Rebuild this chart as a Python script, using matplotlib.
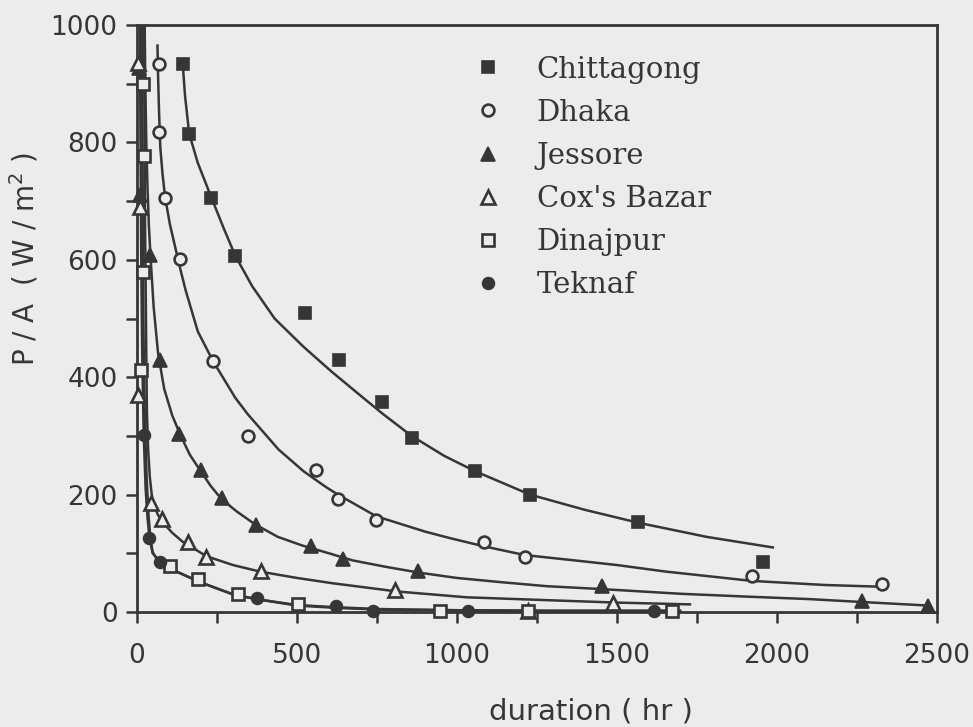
import matplotlib
matplotlib.use("Agg")
import matplotlib.pyplot as plt
from matplotlib.ticker import MultipleLocator

# ---------------- data ----------------
series_names = ["Chittagong", "Dhaka", "Jessore", "Cox's Bazar", "Dinajpur", "Teknaf"]

# measured points (duration in hr, P/A in W/m^2)
chittagong_x = [143, 163, 231, 307, 524, 632, 767, 858, 1056, 1228, 1567, 1955]
chittagong_y = [933, 815, 706, 607, 510, 429, 358, 297, 240, 200, 154, 86]

dhaka_x = [68, 70, 88, 135, 238, 346, 559, 628, 748, 1083, 1212, 1921, 2328]
dhaka_y = [933, 817, 706, 602, 427, 299, 242, 193, 156, 119, 94, 62, 47]

jessore_x = [6, 9, 42, 72, 130, 200, 266, 373, 545, 645, 877, 1453, 2266, 2472]
jessore_y = [926, 711, 608, 429, 303, 242, 195, 149, 112, 91, 70, 44, 18, 11]

coxs_x = [3, 9, 4, 44, 79, 158, 217, 387, 806, 1222, 1488]
coxs_y = [935, 690, 369, 186, 158, 119, 93, 69, 37, 2, 15]

dinajpur_x = [18, 23, 20, 13, 102, 190, 315, 503, 947, 1222, 1672]
dinajpur_y = [899, 776, 579, 412, 79, 56, 31, 13, 1, 1, 1]

teknaf_x = [21, 39, 71, 375, 622, 737, 1034, 1616]
teknaf_y = [302, 126, 86, 23, 10, 2, 1, 1]

# fitted curves as drawn in the reference (traced vertices)
chittagong_cx = [143, 150, 163, 190, 231, 270, 307, 360, 430, 520, 607, 700, 767, 858, 960,
                 1056, 1228, 1400, 1567, 1780, 1987]
chittagong_cy = [933, 880, 815, 765, 708, 655, 607, 555, 500, 452, 410, 368, 338, 300, 266,
                 240, 200, 174, 152, 128, 110]

dhaka_cx = [64, 66, 69, 73, 80, 88, 103, 120, 135, 152, 190, 238, 307, 346, 442, 520, 590, 628,
            748, 900, 977, 1083, 1212, 1400, 1500, 1650, 1921, 2150, 2328]
dhaka_cy = [965, 910, 850, 790, 745, 706, 660, 620, 585, 548, 478, 427, 365, 337, 277, 240, 213,
            200, 163, 137, 126, 112, 97, 86, 80, 69, 53, 46, 43]

jessore_cx = [24, 26, 29, 33, 37, 42, 52, 66, 85, 110, 136, 165, 194, 230, 263, 310, 367, 440,
              518, 600, 673, 777, 882, 1000, 1134, 1280, 1453, 1700, 1915, 2100, 2266, 2472]
jessore_cy = [1000, 900, 800, 720, 660, 608, 520, 440, 380, 335, 301, 268, 244, 215, 193, 172,
              150, 128, 113, 100, 88, 77, 67, 58, 51, 44, 39, 31, 26, 22, 17, 11]

coxs_cx = [22, 23, 24, 25, 27, 29, 31, 35, 40, 46, 54, 65, 80, 110, 142, 217, 300, 383, 500,
           611, 812, 1031, 1291, 1500, 1728]
coxs_cy = [1000, 880, 770, 670, 560, 440, 340, 275, 230, 200, 180, 166, 153, 135, 120, 95, 80,
           69, 58, 49, 35, 25, 20, 16, 13]

dinajpur_cx = [15, 16, 17, 18, 19, 20, 22, 25, 30, 36, 42, 49, 60, 111, 196, 305, 384, 499,
               624, 759, 1000, 1300, 1697]
dinajpur_cy = [1000, 900, 800, 700, 600, 500, 400, 320, 230, 165, 125, 102, 92, 72, 51, 29, 21,
               12, 8, 5, 3, 2, 2]

teknaf_cx = [9, 11, 13, 16, 21, 27, 33, 39, 49, 71, 111, 196, 305, 384, 499, 624, 759, 1000,
             1300, 1697]
teknaf_cy = [1000, 800, 620, 450, 302, 210, 160, 126, 100, 86, 72, 51, 29, 21, 11, 7, 4, 3, 2, 2]

x_ticks = [0, 500, 1000, 1500, 2000, 2500]
y_ticks = [0, 200, 400, 600, 800, 1000]

# ---------------- style ----------------
INK = "#363636"
PAPER = "#ececec"

fig = plt.figure(figsize=(9.73, 7.27), dpi=100, facecolor=PAPER)
ax = fig.add_axes([137 / 973, 1 - 612 / 727, 800 / 973, 587 / 727])
ax.set_facecolor(PAPER)

marker_styles = [
    dict(marker="s", ms=8.5, mfc=INK, mec=INK, mew=1.2),
    dict(marker="o", ms=8.5, mfc=PAPER, mec=INK, mew=1.9),
    dict(marker="^", ms=10, mfc=INK, mec=INK, mew=1.2),
    dict(marker="^", ms=10, mfc=PAPER, mec=INK, mew=1.9),
    dict(marker="s", ms=8, mfc=PAPER, mec=INK, mew=1.9),
    dict(marker="o", ms=8.5, mfc=INK, mec=INK, mew=1.2),
]

points = [(chittagong_x, chittagong_y), (dhaka_x, dhaka_y), (jessore_x, jessore_y),
          (coxs_x, coxs_y), (dinajpur_x, dinajpur_y), (teknaf_x, teknaf_y)]
curves = [(chittagong_cx, chittagong_cy), (dhaka_cx, dhaka_cy), (jessore_cx, jessore_cy),
          (coxs_cx, coxs_cy), (dinajpur_cx, dinajpur_cy), (teknaf_cx, teknaf_cy)]

for (cx, cy) in curves:
    ax.plot(cx, cy, color=INK, lw=1.8, solid_joinstyle="round", zorder=2)

handles = []
for name, (px, py), st in zip(series_names, points, marker_styles):
    h, = ax.plot(px, py, ls="none", label=name, clip_on=False, zorder=3, **st)
    handles.append(h)

ax.set_xlim(0, 2500)
ax.set_ylim(0, 1000)
ax.set_xticks(x_ticks)
ax.set_yticks(y_ticks)
ax.xaxis.set_minor_locator(MultipleLocator(250))
ax.yaxis.set_minor_locator(MultipleLocator(100))

ax.tick_params(axis="both", which="both", direction="out", length=8, width=1.8,
               color=INK, labelcolor=INK)
ax.tick_params(axis="x", which="major", pad=14, labelsize=19)
ax.tick_params(axis="y", which="major", pad=6, labelsize=19)

for sp in ax.spines.values():
    sp.set_color(INK)
    sp.set_linewidth(2.0)

ax.set_ylabel("P / A  ( W / m$^2$ )", fontsize=20, color=INK)
ax.yaxis.set_label_coords(-0.121, 0.601)
ax.set_xlabel("duration ( hr )", fontsize=21, color=INK)
ax.xaxis.set_label_coords(0.5675, -0.145)

leg = ax.legend(handles=handles, loc="upper left", bbox_to_anchor=(0.421, 0.948),
                frameon=False, prop={"family": "DejaVu Serif", "size": 21},
                handlelength=0.95, handletextpad=1.2, labelspacing=0.52,
                borderpad=0, borderaxespad=0)
for t in leg.get_texts():
    t.set_color(INK)

fig.savefig("out.png", dpi=100, facecolor=PAPER)
